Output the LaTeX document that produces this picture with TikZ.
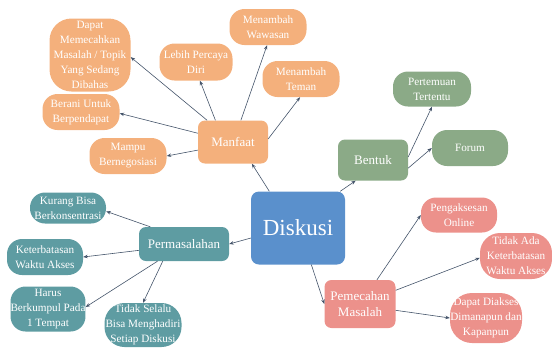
\documentclass[tikz,border=0pt]{standalone}
\usepackage{fontspec}
\setmainfont{Liberation Serif}
\usetikzlibrary{arrows.meta}
\definecolor{orangeC}{HTML}{F4B07C}
\definecolor{greenC}{HTML}{8BAA87}
\definecolor{tealC}{HTML}{5E9CA2}
\definecolor{pinkC}{HTML}{EC918B}
\definecolor{blueC}{HTML}{5A90CC}
\definecolor{lineC}{HTML}{44546A}
\tikzset{
  leaf/.style={fill=#1, text=white, rounded corners=15pt, align=center, inner sep=0pt,
    font=\fontsize{11.2}{15}\selectfont},
  hub/.style={fill=#1, text=white, rounded corners=7pt, align=center, inner sep=0pt,
    font=\fontsize{13}{16}\selectfont},
  conn/.style={draw=lineC, line width=0.6pt, -{Stealth[length=4.5pt,width=3.5pt]}}
}
\begin{document}
\begin{tikzpicture}[x=1pt,y=-1pt]
\useasboundingbox (0,0) rectangle (552,349);
% center
\node[fill=blueC, text=white, rounded corners=8pt, minimum width=94pt, minimum height=73pt, inner sep=0pt,
  font=\fontsize{23}{26}\selectfont] (dis) at (298,228) {Diskusi};
% Manfaat group
\node[hub=orangeC, minimum width=70pt, minimum height=43pt] (man) at (233,142) {Manfaat};
\node[leaf=orangeC, rounded corners=22pt, minimum width=81pt, minimum height=73pt] (dap) at (90,55)
  {Dapat\\Memecahkan\\Masalah / Topik\\Yang Sedang\\Dibahas};
\node[leaf=orangeC, minimum width=73pt, minimum height=37pt] (leb) at (196,62) {Lebih Percaya\\Diri};
\node[leaf=orangeC, minimum width=77pt, minimum height=36pt] (waw) at (268,27) {Menambah\\Wawasan};
\node[leaf=orangeC, minimum width=77pt, minimum height=36pt] (tem) at (301,79) {Menambah\\Teman};
\node[leaf=orangeC, minimum width=77pt, minimum height=36pt] (ber) at (81,112) {Berani Untuk\\Berpendapat};
\node[leaf=orangeC, minimum width=77pt, minimum height=36pt] (mam) at (128,156) {Mampu\\Bernegosiasi};
% Bentuk group
\node[hub=greenC, minimum width=70pt, minimum height=41pt] (ben) at (373,160) {Bentuk};
\node[leaf=greenC, minimum width=78pt, minimum height=35pt] (per) at (432,89) {Pertemuan\\Tertentu};
\node[leaf=greenC, minimum width=76pt, minimum height=36pt] (for) at (470,148) {Forum};
% Permasalahan group
\node[hub=tealC, minimum width=90pt, minimum height=34pt] (pms) at (184,244) {Permasalahan};
\node[leaf=tealC, minimum width=76pt, minimum height=31pt] (kur) at (68,208) {Kurang Bisa\\Berkonsentrasi};
\node[leaf=tealC, minimum width=76pt, minimum height=36pt] (ket) at (45,257) {Keterbatasan\\Waktu Akses};
\node[leaf=tealC, minimum width=73pt, minimum height=45pt] (har) at (48,309) {Harus\\Berkumpul Pada\\1 Tempat};
\node[leaf=tealC, rounded corners=20pt, minimum width=77pt, minimum height=44pt] (tid) at (143,325) {Tidak Selalu\\Bisa Menghadiri\\Setiap Diskusi};
% Pemecahan group
\node[hub=pinkC, minimum width=71pt, minimum height=48pt] (pem) at (360,304) {Pemecahan\\Masalah};
\node[leaf=pinkC, minimum width=76pt, minimum height=35pt] (pen) at (459,215) {Pengaksesan\\Online};
\node[leaf=pinkC, rounded corners=20pt, minimum width=72pt, minimum height=46pt] (tad) at (516,256) {Tidak Ada\\Keterbatasan\\Waktu Akses};
\node[leaf=pinkC, rounded corners=22pt, minimum width=72pt, minimum height=50pt] (dad) at (486,318) {Dapat Diakses\\Dimanapun dan\\Kapanpun};
% connectors
\draw[conn] (dis.128) -- (man.311);
\draw[conn] (dis.41) -- (ben.230);
\draw[conn] (dis.192) -- (pms.0);
\draw[conn] (dis.290) -- (pem.180);
\draw[conn] (man.140) -- (dap.357);
\draw[conn] (man.129) -- (leb.282);
\draw[conn] (man.70) -- (waw.267);
\draw[conn] (man.5) -- (tem.267);
\draw[conn] (man.166) -- (ber.-2);
\draw[conn] (man.193) -- (mam.0);
\draw[conn] (ben.5) -- (per.270);
\draw[conn] (ben.347) -- (for.180);
\draw[conn] (pms.153) -- (kur.355);
\draw[conn] (pms.188) -- (ket.0);
\draw[conn] (pms.213) -- (har.3);
\draw[conn] (pms.219) -- (tid.90);
\draw[conn] (pem.55) -- (pen.180);
\draw[conn] (pem.21) -- (tad.183);
\draw[conn] (pem.350) -- (dad.180);
\end{tikzpicture}
\end{document}
